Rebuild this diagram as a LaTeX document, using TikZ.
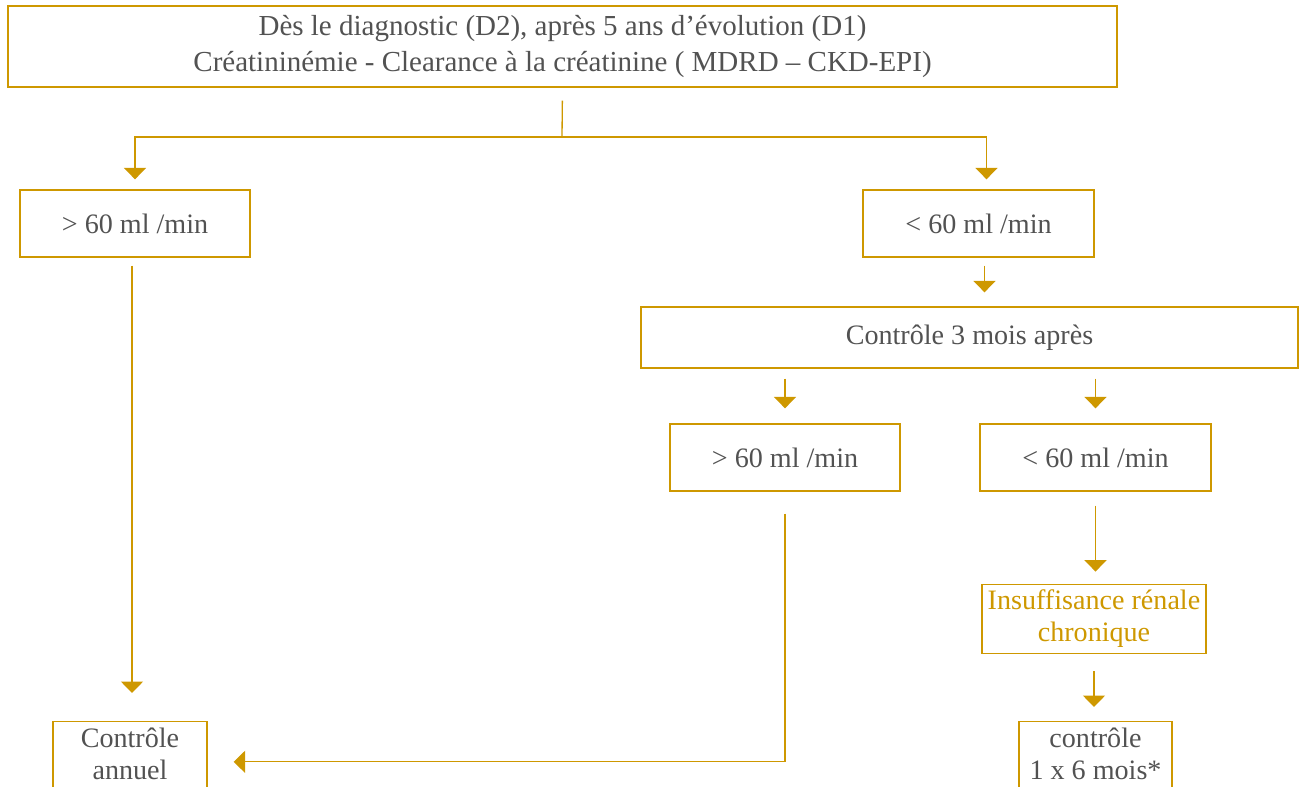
\documentclass[tikz,border=0pt]{standalone}
\usepackage{fontspec}
\setmainfont{Liberation Serif}
\usepackage{tikz}
\usetikzlibrary{arrows.meta}
\usetikzlibrary{positioning,calc}
\definecolor{gold}{RGB}{206,152,0}
\definecolor{txtgray}{RGB}{82,82,82}

\begin{document}
\begin{tikzpicture}[
  x=0.02cm, y=-0.02cm,
  box/.style={rectangle, draw=gold, line width=0.75pt, text=txtgray, align=center, font=\fontsize{16}{20.4}\selectfont},
  link/.style={draw=gold, line width=0.75pt},
  arrow/.style={link, -{Triangle[width=12.5pt,length=6.5pt]}}
]
	\useasboundingbox (0,0) rectangle (1303,787);
	\clip (0,0) rectangle (1303,787);

	\node (top) [box, minimum width=22.18cm, minimum height=1.62cm, font=\fontsize{16.5}{20.4}\selectfont] at (562.5,46.5) {D\`es le diagnostic (D2), apr\`es 5 ans d’\'evolution (D1)\\Cr\'eatinin\'emie - Clearance \`a la cr\'eatinine ( MDRD -- CKD-EPI)};

	\node (gtA) [box, minimum width=4.6cm, minimum height=1.34cm] at (135,223.5) {> 60 ml /min};
	\node (ltA) [box, minimum width=4.62cm, minimum height=1.34cm] at (978.5,223.5) {< 60 ml /min};

	\node (ctrl) [box, minimum width=13.14cm, minimum height=1.22cm] at (969.5,337.5) {Contr\^ole 3 mois apr\`es};

	\node (gtB) [box, minimum width=4.6cm, minimum height=1.34cm] at (785,457.5) {> 60 ml /min};
	\node (ltB) [box, minimum width=4.62cm, minimum height=1.34cm] at (1095.5,457.5) {< 60 ml /min};

	\node (irc) [box, text=gold, minimum width=4.44cm, minimum height=1.36cm, font=\fontsize{16}{18.2}\selectfont] at (1094,619) {Insuffisance r\'enale\\chronique};

	\node (annuel) [box, anchor=north, minimum width=3.08cm, inner ysep=3.5pt, font=\fontsize{16}{18.2}\selectfont] at (130,721) {Contr\^ole\\annuel\\[6pt]};
	\node (six) [box, anchor=north, minimum width=3.06cm, inner ysep=3.5pt, font=\fontsize{16}{18.2}\selectfont] at (1095.5,721) {contr\^ole\\1 x 6 mois*\\[6pt]};

	% fork below the first box
	\coordinate (fork) at (562,137);
	\draw[link, shorten <=13*0.02cm] (top.south) -- (fork);
	\draw[arrow, shorten >=10*0.02cm] (fork) -| (gtA.north);
	\draw[arrow, shorten >=10*0.02cm] (fork) -| ([xshift=8*0.02cm]ltA.north);

	\draw[arrow, shorten <=8*0.02cm, shorten >=14*0.02cm] ([xshift=6*0.02cm]ltA.south) -- ([xshift=6*0.02cm]ltA.south |- ctrl.north);

	\draw[arrow, shorten <=10*0.02cm, shorten >=15*0.02cm] (gtB.north |- ctrl.south) -- (gtB.north);
	\draw[arrow, shorten <=10*0.02cm, shorten >=15*0.02cm] (ltB.north |- ctrl.south) -- (ltB.north);

	\draw[arrow, shorten <=8*0.02cm, shorten >=28*0.02cm] ([xshift=-3*0.02cm]gtA.south) -- ([xshift=-3*0.02cm]gtA.south |- annuel.north);
	\draw[arrow, shorten <=22*0.02cm, shorten >=26*0.02cm] (gtB.south) |- ([yshift=0.26cm]annuel.east);

	\draw[arrow, shorten <=14*0.02cm, shorten >=12*0.02cm] (ltB.south) -- (ltB.south |- irc.north);
	\draw[arrow, shorten <=17*0.02cm, shorten >=14*0.02cm] (irc.south) -- (irc.south |- six.north);

\end{tikzpicture}
\end{document}
